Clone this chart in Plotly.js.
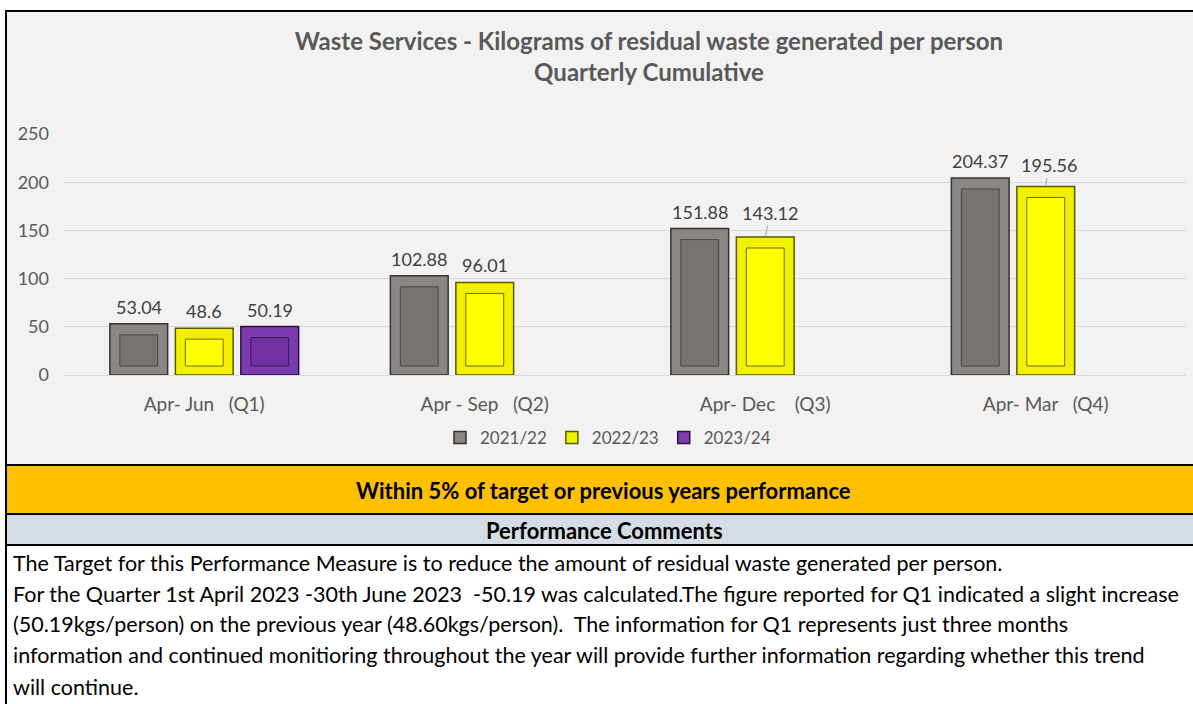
<!DOCTYPE html>
<html>
<head>
<meta charset="utf-8">
<script src="https://cdn.plot.ly/plotly-3.0.1.min.js"></script>
<style>
  html, body { margin: 0; padding: 0; background: #ffffff; }
  #chart { width: 1193px; height: 704px; }
</style>
</head>
<body>
<div id="chart"></div>
<script>
// ---------------- DATA ----------------
const categories = ['Apr- Jun\u00a0\u00a0\u00a0(Q1)', 'Apr - Sep\u00a0\u00a0\u00a0(Q2)', 'Apr- Dec\u00a0\u00a0\u00a0\u00a0(Q3)', 'Apr- Mar\u00a0\u00a0\u00a0(Q4)'];
const seriesNames = ['2021/22', '2022/23', '2023/24'];
const values2021 = [53.04, 102.88, 151.88, 204.37];
const values2022 = [48.6, 96.01, 143.12, 195.56];
const values2023 = [50.19, null, null, null];
const yTicks = [0, 50, 100, 150, 200, 250];

const chartTitle = 'Waste Services - Kilograms of residual waste generated per person<br>Quarterly Cumulative';
const statusText = 'Within 5% of target or previous years performance';
const commentsHeader = 'Performance Comments';
const commentLines = [
  'The Target for this Performance Measure is to reduce the amount of residual waste generated per person.',
  'For the Quarter 1st April 2023 -30th June 2023\u00a0\u00a0-50.19 was calculated.The figure reported for Q1 indicated a slight increase',
  '(50.19kgs/person) on the previous year (48.60kgs/person).\u00a0\u00a0The information for Q1 represents just three months',
  'information and continued monitioring throughout the year will provide further information regarding whether this trend',
  'will continue.'
];

// ---------------- STYLE ----------------
const FONT = 'Lato, "Open Sans", sans-serif';
const seriesStyle = [
  { face: '#777371', frame: '#8a8684', outline: '#363433', inner: '#4a4746' },
  { face: '#ffff00', frame: '#f0f000', outline: '#5a5a00', inner: '#6e6e00' },
  { face: '#7030a0', frame: '#7d3aae', outline: '#2a0f40', inner: '#3c1659' }
];
const allValues = [values2021, values2022, values2023];
const barCenters = [-0.2335, 0, 0.2335];
const barWidth = 0.206;
const innerWidth = 0.135;
const topInset = 11.4, baseInset = 9.3;
// labels that carry a short leader line: [series-category] -> pixel offset
const leaderLabels = { '1-2': [5, -24], '1-3': [3, -21] };

// pixel -> paper helpers (plot area: x 64..1186, y 134..375)
const L = 64, R = 1186, T = 134, B = 375;
const px2x = X => (X - L) / (R - L);
const px2y = Y => (B - Y) / (B - T);

// ---------------- TRACES ----------------
const traces = [];
allValues.forEach((vals, s) => {
  const st = seriesStyle[s];
  traces.push({
    type: 'bar', name: seriesNames[s],
    x: categories.map((_, i) => i + barCenters[s]),
    y: vals, width: barWidth,
    marker: { color: st.frame, line: { color: st.outline, width: 1.5 } },
    hoverinfo: 'skip', legendgroup: seriesNames[s]
  });
});
allValues.forEach((vals, s) => {
  const st = seriesStyle[s];
  traces.push({
    type: 'bar', name: seriesNames[s] + ' face', showlegend: false,
    x: categories.map((_, i) => i + barCenters[s]),
    y: vals.map(v => v == null ? null : v - topInset - baseInset),
    base: vals.map(v => v == null ? null : baseInset),
    width: innerWidth,
    marker: { color: st.face, line: { color: st.inner, width: 1 } },
    hoverinfo: 'skip', legendgroup: seriesNames[s]
  });
});

// ---------------- ANNOTATIONS ----------------
const annotations = [];
allValues.forEach((vals, s) => {
  vals.forEach((v, i) => {
    if (v == null) return;
    const key = s + '-' + i;
    const base = {
      x: i + barCenters[s], y: v, xref: 'x', yref: 'y',
      text: String(v),
      font: { family: FONT, size: 18, color: '#404040' }
    };
    if (leaderLabels[key]) {
      Object.assign(base, {
        showarrow: true, arrowhead: 0, arrowwidth: 1, arrowcolor: '#a6a6a6',
        ax: leaderLabels[key][0], ay: leaderLabels[key][1], standoff: 1
      });
    } else {
      Object.assign(base, { showarrow: false, xanchor: 'center', yanchor: 'bottom', yshift: 4 });
    }
    annotations.push(base);
  });
});
annotations.push({
  xref: 'paper', yref: 'paper', x: px2x(603), y: px2y(490),
  xanchor: 'center', yanchor: 'middle',
  text: '<b>' + statusText + '</b>', showarrow: false,
  font: { family: FONT, size: 22, color: '#000000' }
});
annotations.push({
  xref: 'paper', yref: 'paper', x: px2x(604), y: px2y(530),
  xanchor: 'center', yanchor: 'middle',
  text: '<b>' + commentsHeader + '</b>', showarrow: false,
  font: { family: FONT, size: 22, color: '#000000' }
});
const commentY = [563, 594, 624, 655, 687];
commentLines.forEach((line, k) => {
  annotations.push({
    xref: 'paper', yref: 'paper', x: px2x(11), y: px2y(commentY[k]),
    xanchor: 'left', yanchor: 'middle', align: 'left',
    text: line, showarrow: false,
    font: { family: FONT, size: 21.5, color: '#000000' }
  });
});

// ---------------- SHAPES (panels) ----------------
const panel = (y0, y1, fill) => ({
  type: 'rect', xref: 'paper', yref: 'paper', layer: 'below',
  x0: px2x(6), x1: px2x(1205), y0: px2y(y1), y1: px2y(y0),
  fillcolor: fill, line: { color: '#000000', width: 2 }
});
const shapes = [
  panel(11, 465, '#f2f2f2'),
  panel(465, 514, '#ffc000'),
  panel(514, 545, '#d6dce4'),
  panel(545, 720, '#ffffff')
];

// ---------------- LAYOUT ----------------
const layout = {
  width: 1193, height: 704,
  margin: { l: L, r: 1193 - R, t: T, b: 704 - B, autoexpand: false },
  paper_bgcolor: '#ffffff', plot_bgcolor: 'rgba(0,0,0,0)',
  barmode: 'overlay',
  font: { family: FONT, color: '#595959' },
  title: {
    text: chartTitle, xref: 'container', yref: 'container',
    x: 649 / 1193, xanchor: 'center', y: 1 - 50 / 704, yanchor: 'middle',
    font: { family: FONT, size: 24, color: '#595959', weight: 'bold' }
  },
  xaxis: {
    type: 'linear', range: [-0.5, 3.5],
    tickmode: 'array', tickvals: categories.map((_, i) => i), ticktext: categories,
    showgrid: false, zeroline: false, showline: false, ticks: '',
    tickfont: { family: FONT, size: 19, color: '#595959' },
    ticklabelstandoff: 16, fixedrange: true
  },
  yaxis: {
    range: [0, 250], tickmode: 'array', tickvals: yTicks,
    showgrid: true, gridcolor: '#d9d9d9', gridwidth: 1,
    zeroline: true, zerolinecolor: '#d9d9d9', zerolinewidth: 1,
    showline: false, ticks: '',
    tickfont: { family: FONT, size: 18, color: '#595959' },
    ticklabelstandoff: 14, fixedrange: true
  },
  legend: {
    orientation: 'h', x: px2x(608), xanchor: 'center', y: px2y(438), yanchor: 'middle',
    bgcolor: 'rgba(0,0,0,0)', font: { family: FONT, size: 17, color: '#595959' },
    traceorder: 'normal', itemwidth: 30
  },
  showlegend: true,
  shapes: shapes,
  annotations: annotations
};

Plotly.newPlot('chart', traces, layout, { displayModeBar: false });
</script>
</body>
</html>
